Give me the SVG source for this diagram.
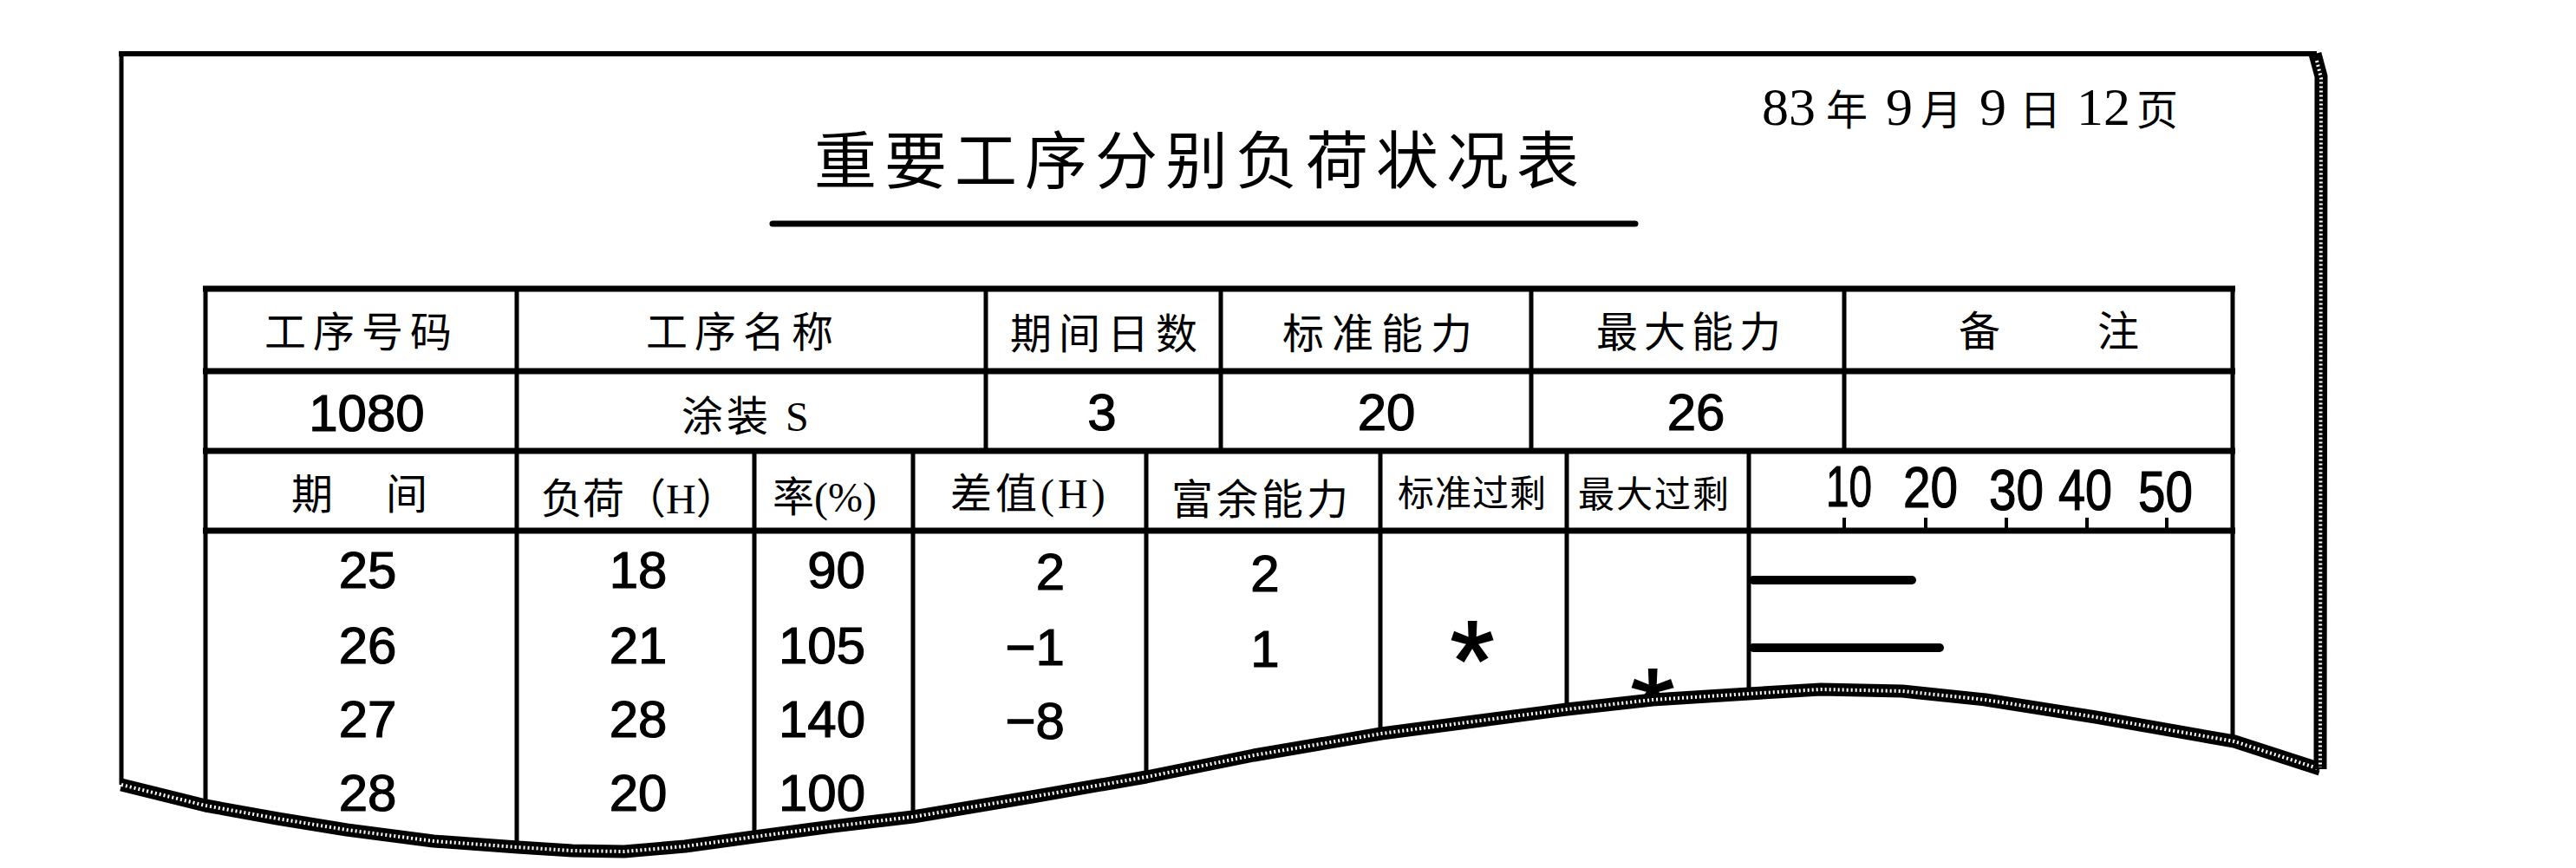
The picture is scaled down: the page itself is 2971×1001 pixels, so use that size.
<svg xmlns="http://www.w3.org/2000/svg" width="2971" height="1001" viewBox="0 0 2971 1001">
<style>
.t{font-family:"Liberation Serif","Noto Sans CJK SC",serif;fill:#000}
.h{font-size:48px}
.hs{font-size:42px}
.n{font-family:"Liberation Sans","DejaVu Sans",sans-serif;font-size:60px;fill:#000;stroke:#000;stroke-width:1.2px;text-anchor:middle}
.ne{text-anchor:end}
.sc{font-size:66px;text-anchor:start}
.ast{font-size:130px;stroke-width:2px}
.hl{stroke:#000;stroke-width:7;fill:none}
.vl{stroke:#000;stroke-width:5;fill:none}
.band{stroke:#000;stroke-width:15;fill:none;stroke-linejoin:round}
.bandin{stroke:#fff;stroke-width:4;fill:none;stroke-dasharray:2 3;stroke-linejoin:round}
</style>
<rect width="2971" height="1001" fill="#fff"/>

<g id="table-grid">
  <line class="hl" x1="234" y1="333" x2="2578" y2="333"/>
  <line class="hl" x1="234" y1="428" x2="2578" y2="428"/>
  <line class="hl" x1="234" y1="520" x2="2578" y2="520"/>
  <line class="hl" x1="234" y1="612" x2="2578" y2="612"/>
  <line class="vl" x1="237" y1="330" x2="237" y2="1000"/>
  <line class="vl" x1="2575" y1="330" x2="2575" y2="1000"/>
  <line class="vl" x1="596" y1="333" x2="596" y2="1000"/>
  <line class="vl" x1="1137" y1="333" x2="1137" y2="520"/>
  <line class="vl" x1="1408" y1="333" x2="1408" y2="520"/>
  <line class="vl" x1="1766" y1="333" x2="1766" y2="520"/>
  <line class="vl" x1="2127" y1="333" x2="2127" y2="520"/>
  <line class="vl" x1="870" y1="520" x2="870" y2="1000"/>
  <line class="vl" x1="1053" y1="520" x2="1053" y2="1000"/>
  <line class="vl" x1="1322" y1="520" x2="1322" y2="1000"/>
  <line class="vl" x1="1592" y1="520" x2="1592" y2="1000"/>
  <line class="vl" x1="1807" y1="520" x2="1807" y2="1000"/>
  <line class="vl" x1="2017" y1="520" x2="2017" y2="1000"/>
</g>

<g id="title">
  <text class="t" x="939" y="211" font-size="72" letter-spacing="9">重要工序分别负荷状况表</text>
  <line x1="891" y1="258" x2="1886" y2="258" stroke="#000" stroke-width="7" stroke-linecap="round"/>
</g>

<g id="date">
  <text class="t" y="144"><tspan x="2032" style="font-size:62px">83</tspan><tspan x="2106" style="font-size:48px">年</tspan><tspan x="2175" style="font-size:62px">9</tspan><tspan x="2215" style="font-size:48px">月</tspan><tspan x="2283" style="font-size:62px">9</tspan><tspan x="2329" style="font-size:48px">日</tspan><tspan x="2395" style="font-size:62px">12</tspan><tspan x="2464" style="font-size:48px">页</tspan></text>
</g>

<g id="header-row1">
  <text class="t h" x="305" y="400" letter-spacing="8">工序号码</text>
  <text class="t h" x="745" y="400" letter-spacing="8">工序名称</text>
  <text class="t h" x="1165" y="402" letter-spacing="8">期间日数</text>
  <text class="t h" x="1479" y="402" letter-spacing="9">标准能力</text>
  <text class="t h" x="1841" y="400" letter-spacing="7">最大能力</text>
  <text class="t h" y="399"><tspan x="2259">备</tspan><tspan x="2419">注</tspan></text>
</g>

<g id="value-row2">
  <text class="n" x="423" y="497">1080</text>
  <text class="t h" x="786" y="497" letter-spacing="4">涂装 S</text>
  <text class="n" x="1271" y="496">3</text>
  <text class="n" x="1599" y="496">20</text>
  <text class="n" x="1956" y="496">26</text>
</g>

<g id="header-row3">
  <text class="t h" y="587"><tspan x="336">期</tspan><tspan x="445">间</tspan></text>
  <text class="t h" x="624" y="592">负荷（H）</text>
  <text class="t h" x="891" y="590">率(%)</text>
  <text class="t h" x="1096" y="586" letter-spacing="4">差值(H)</text>
  <text class="t h" x="1351" y="593" letter-spacing="4">富余能力</text>
  <text class="t hs" x="1612" y="584" letter-spacing="1">标准过剩</text>
  <text class="t hs" x="1820" y="585" letter-spacing="2">最大过剩</text>
  <g id="scale">
    <text class="n sc" x="2106" y="584" textLength="53" lengthAdjust="spacingAndGlyphs">10</text>
    <text class="n sc" x="2195" y="585" textLength="63" lengthAdjust="spacingAndGlyphs">20</text>
    <text class="n sc" x="2294" y="588" textLength="63" lengthAdjust="spacingAndGlyphs">30</text>
    <text class="n sc" x="2374" y="588" textLength="62" lengthAdjust="spacingAndGlyphs">40</text>
    <text class="n sc" x="2466" y="590" textLength="63" lengthAdjust="spacingAndGlyphs">50</text>
    <g stroke="#000" stroke-width="4">
      <line x1="2127" y1="597" x2="2127" y2="612"/>
      <line x1="2221" y1="597" x2="2221" y2="612"/>
      <line x1="2314" y1="597" x2="2314" y2="612"/>
      <line x1="2407" y1="597" x2="2407" y2="612"/>
      <line x1="2499" y1="597" x2="2499" y2="612"/>
    </g>
  </g>
</g>

<g id="data">
  <text class="n" x="424" y="678">25</text>
  <text class="n" x="424" y="765">26</text>
  <text class="n" x="424" y="850">27</text>
  <text class="n" x="424" y="935">28</text>
  <text class="n" x="736" y="678">18</text>
  <text class="n" x="736" y="765">21</text>
  <text class="n" x="736" y="850">28</text>
  <text class="n" x="736" y="935">20</text>
  <text class="n ne" x="998" y="678">90</text>
  <text class="n ne" x="998" y="765">105</text>
  <text class="n ne" x="998" y="850">140</text>
  <text class="n ne" x="998" y="935">100</text>
  <text class="n ne" x="1228" y="680">2</text>
  <text class="n ne" x="1228" y="767">−1</text>
  <text class="n ne" x="1228" y="852">−8</text>
  <text class="n" x="1459" y="682">2</text>
  <text class="n" x="1459" y="769">1</text>
  <text class="n ast" x="1698" y="807">*</text>
  <text class="n ast" x="1906" y="862">*</text>
  <g stroke="#000" stroke-width="10" stroke-linecap="round">
    <line x1="2022" y1="669" x2="2205" y2="669"/>
    <line x1="2022" y1="747" x2="2237" y2="747"/>
  </g>
</g>

<g id="paper-edge">
  <path fill="#fff" d="M130,905 L140,905 L237,929 L320,944 L400,957 L500,970 L597,977 L660,981 L720,982 L790,976 L870,965 L960,953 L1053,942 L1190,919 L1322,896 L1446,871 L1593,846 L1700,832 L1807,818 L1906,807 L2017,800 L2100,795 L2194,797 L2290,807 L2417,827 L2577,855 L2676,887 L2700,887 L2700,1001 L130,1001 Z"/>
  <line x1="137" y1="62" x2="2672" y2="62" stroke="#000" stroke-width="6"/>
  <line x1="140" y1="60" x2="140" y2="905" stroke="#000" stroke-width="5"/>
  <path class="band" d="M140,905 L237,929 L320,944 L400,957 L500,970 L597,977 L660,981 L720,982 L790,976 L870,965 L960,953 L1053,942 L1190,919 L1322,896 L1446,871 L1593,846 L1700,832 L1807,818 L1906,807 L2017,800 L2100,795 L2194,797 L2290,807 L2417,827 L2577,855 L2676,887"/>
  <path class="bandin" d="M140,905 L237,929 L320,944 L400,957 L500,970 L597,977 L660,981 L720,982 L790,976 L870,965 L960,953 L1053,942 L1190,919 L1322,896 L1446,871 L1593,846 L1700,832 L1807,818 L1906,807 L2017,800 L2100,795 L2194,797 L2290,807 L2417,827 L2577,855 L2676,887"/>
  <path class="band" d="M2670,62 L2677,88 L2676,887"/>
  <path class="bandin" d="M2672,70 L2677,90 L2676,885"/>
</g>
</svg>
